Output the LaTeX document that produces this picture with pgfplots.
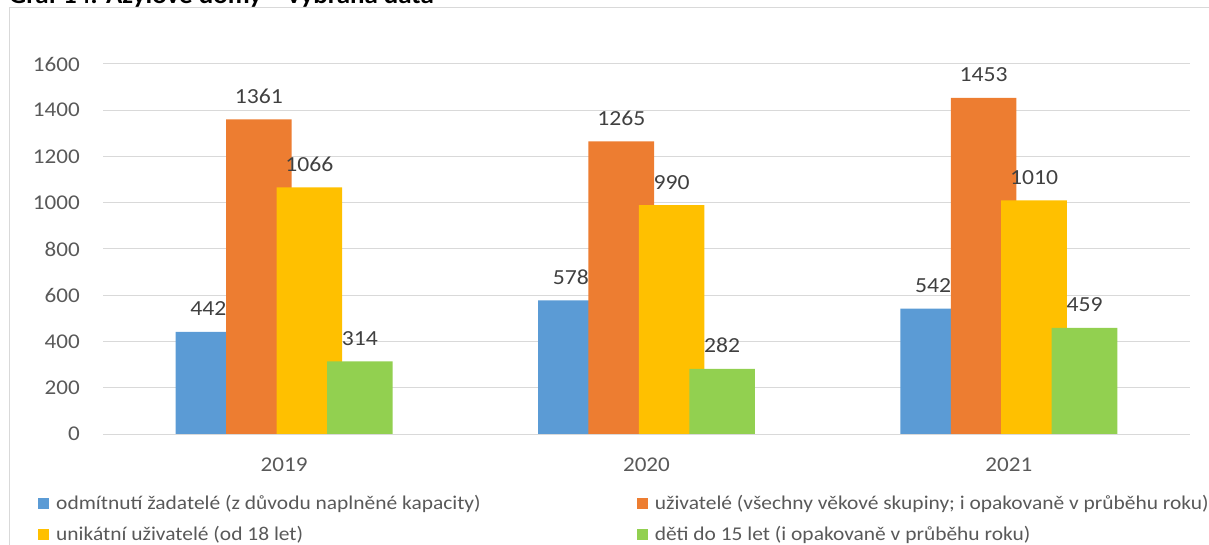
\documentclass[border=0pt]{standalone}
\usepackage{pgfplots}
\pgfplotsset{compat=1.18}
\usepackage{fontspec}
\setmainfont{Carlito}
\newfontfamily\tickfont{Carlito}[FakeStretch=1.1]
\definecolor{cblue}{HTML}{5B9BD5}
\definecolor{corange}{HTML}{ED7D31}
\definecolor{cyellow}{HTML}{FFC000}
\definecolor{cgreen}{HTML}{92D050}
\definecolor{gridc}{HTML}{D9D9D9}
\definecolor{tickc}{HTML}{595959}
\definecolor{labc}{HTML}{404040}
\begin{document}
\begin{tikzpicture}
\draw[gridc, line width=1bp] (9.5bp,-20bp) -- (9.5bp,537.5bp) -- (1230bp,537.5bp);
\node[anchor=base west, inner sep=0pt, font=\tickfont\fontsize{24.5bp}{28bp}\selectfont\bfseries] at (9bp,541.5bp) {Graf 14: Azylové domy – vybraná data};
\begin{axis}[
  at={(103bp,111bp)}, anchor=south west,
  scale only axis, width=1087bp, height=370bp,
  xmin=-0.5, xmax=2.5, ymin=0, ymax=1600,
  xtick={0,1,2}, xticklabels={2019,2020,2021},
  ytick={0,200,...,1600},
  ymajorgrids, grid style={color=gridc, line width=1bp},
  axis line style={draw=none},
  major tick length=0pt,
  tick label style={font=\tickfont\fontsize{21bp}{24bp}\selectfont, text=tickc},
  yticklabel style={anchor=east, inner sep=0pt, xshift=-23bp},
  xticklabel style={anchor=north, inner sep=0pt, yshift=-23.5bp},
  /pgf/number format/assume math mode=true,
  /pgf/number format/1000 sep={},
  ybar, bar width=0.181,
  nodes near coords,
  every node near coord/.append style={font=\tickfont\fontsize{21.5bp}{24bp}\selectfont, text=labc, anchor=base, inner sep=0pt, yshift=16bp},
  legend columns=2,
  legend cell align=left,
  legend image code/.code={\fill[#1] (0bp,-6bp) rectangle (11bp,5bp);},
  legend style={at={(axis description cs:-0.0598,-0.1655)}, anchor=north west,
    draw=none, fill=none, inner sep=0pt,
    nodes={inner sep=0pt},
    column sep=7bp,
    /tikz/every even column/.append style={column sep=156bp},
    row sep=15bp,
    font=\tickfont\fontsize{19.5bp}{23bp}\selectfont, text=tickc},
]
\addplot[fill=cblue, draw=none, bar shift=-0.2089] coordinates {(0,442) (1,578) (2,542)};
\addlegendentry{odmítnutí žadatelé (z důvodu naplněné kapacity)}
\addplot[fill=corange, draw=none, bar shift=-0.0696] coordinates {(0,1361) (1,1265) (2,1453)};
\addlegendentry{uživatelé (všechny věkové skupiny; i opakovaně v průběhu roku)}
\addplot[fill=cyellow, draw=none, bar shift=0.0696] coordinates {(0,1066) (1,990) (2,1010)};
\addlegendentry{unikátní uživatelé (od 18 let)}
\addplot[fill=cgreen, draw=none, bar shift=0.2089] coordinates {(0,314) (1,282) (2,459)};
\addlegendentry{děti do 15 let (i opakovaně v průběhu roku)}
\end{axis}
\pgfresetboundingbox
\path[use as bounding box] (0,0) rectangle (1209bp,545bp);
\end{tikzpicture}
\end{document}
